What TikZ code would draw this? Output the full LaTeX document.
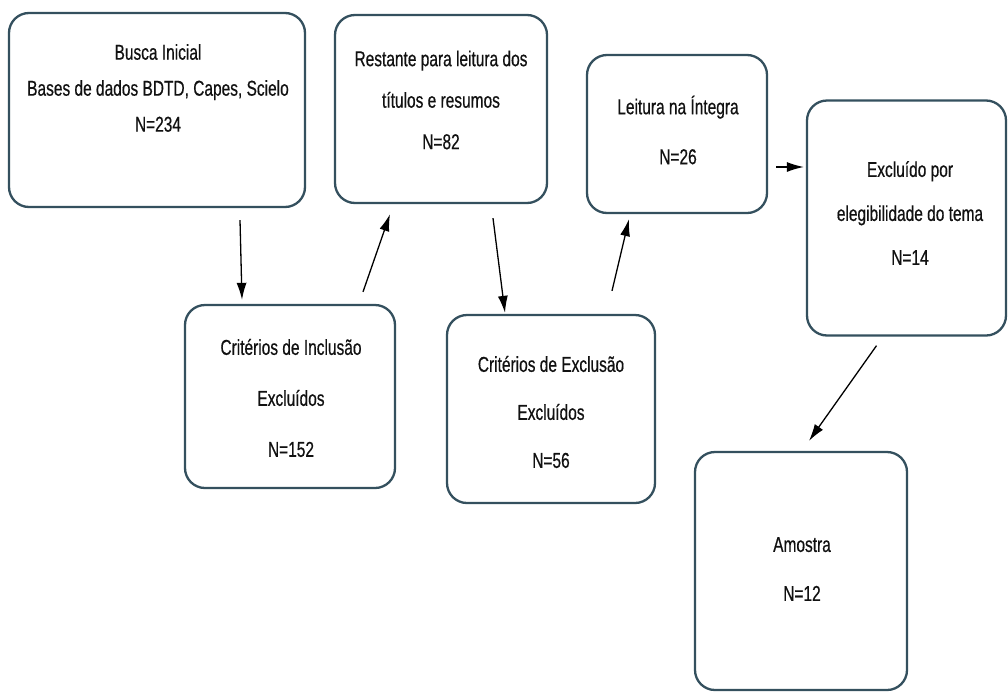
\documentclass[tikz,border=0pt]{standalone}
\usepackage{fontspec}
\setmainfont[FakeStretch=0.72,FakeBold=0.5]{Liberation Sans}
\usetikzlibrary{calc,arrows.meta}
\definecolor{boxline}{HTML}{34505E}
\definecolor{txtcol}{HTML}{111111}
\tikzset{
  box/.style={draw=boxline, line width=2.3pt, rounded corners=20pt, fill=white},
  txt/.style={align=center, text=txtcol, inner sep=0pt},
  arr/.style={draw=black, line width=1.3pt, -{Latex[length=17pt,width=10pt]}},
}
\newcommand{\fs}[1]{\fontsize{21.5}{#1}\selectfont}
\begin{document}
\begin{tikzpicture}[x=1pt,y=-1pt]
\useasboundingbox[fill=white] (0,0) rectangle (1008,691);
% boxes
\node[box, minimum width=296pt, minimum height=194pt] (b1) at (157,110) {};
\node[box, minimum width=212pt, minimum height=188pt] (b2) at (441,109) {};
\node[box, minimum width=180pt, minimum height=158pt] (b3) at (677,134) {};
\node[box, minimum width=199pt, minimum height=235pt] (b4) at (906.5,218) {};
\node[box, minimum width=210pt, minimum height=183pt] (b5) at (290,396.5) {};
\node[box, minimum width=208pt, minimum height=188pt] (b6) at (551,409) {};
\node[box, minimum width=212pt, minimum height=238pt] (b7) at (801,571) {};
% texts
\node[txt, font=\fs{36pt}] (t1) at (158,88) {Busca Inicial\\Bases de dados BDTD, Capes, Scielo\\N=234};
\node[txt, font=\fs{41.5pt}] (t2) at (441,100) {Restante para leitura dos\\títulos e resumos\\N=82};
\node[txt, font=\fs{50pt}] (t3) at (678,130) {Leitura na Íntegra\\N=26};
\node[txt, font=\fs{44pt}] (t4) at (910,213) {Excluído por\\elegibilidade do tema\\N=14};
\node[txt, font=\fs{51pt}] (t5) at (291,398) {Critérios de Inclusão\\Excluídos\\N=152};
\node[txt, font=\fs{48pt}] (t6) at (551,412) {Critérios de Exclusão\\Excluídos\\N=56};
\node[txt, font=\fs{49pt}] (t7) at (802,569) {Amostra\\N=12};
% arrows
\draw[arr] ($(b1.south)+(83,12)$) -- ($(b5.north)+(-48,-4)$);
\draw[arr] ($(b5.north)+(73,-12)$) -- ($(b2.south)+(-51,10)$);
\draw[arr] ($(b2.south)+(52,14)$) -- ($(b6.north)+(-46,-1)$);
\draw[arr] ($(b6.north)+(61,-23)$) -- ($(b3.south)+(-48,5)$);
\draw[arr] ($(b3.east)+(8,33)$) -- ($(b4.west)+(-2,-51)$);
\draw[arr] ($(b4.south)+(-30,9)$) -- ($(b7.north)+(8,-10)$);
\end{tikzpicture}
\end{document}
